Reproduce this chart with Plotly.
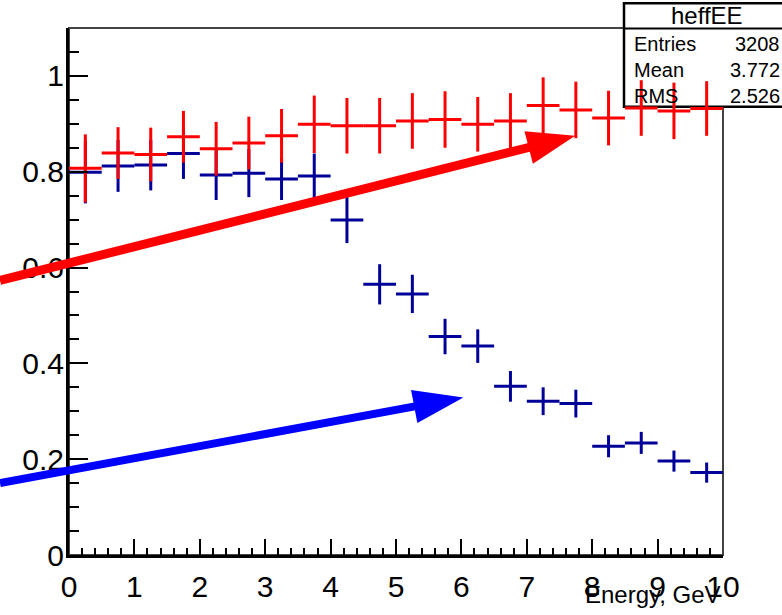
import plotly.graph_objects as go

# ---- data ----
bin_centers = [0.25, 0.75, 1.25, 1.75, 2.25, 2.75, 3.25, 3.75, 4.25, 4.75,
               5.25, 5.75, 6.25, 6.75, 7.25, 7.75, 8.25, 8.75, 9.25, 9.75]
bin_half_width = [0.25] * 20

red_values = [0.807, 0.839, 0.836, 0.873, 0.848, 0.860, 0.875, 0.899, 0.896, 0.896,
              0.906, 0.909, 0.899, 0.906, 0.938, 0.929, 0.912, 0.933, 0.927, 0.932]
red_errors = [0.071, 0.054, 0.056, 0.054, 0.056, 0.055, 0.056, 0.060, 0.058, 0.058,
              0.058, 0.059, 0.057, 0.058, 0.059, 0.059, 0.057, 0.058, 0.059, 0.057]

blue_values = [0.799, 0.812, 0.814, 0.838, 0.793, 0.797, 0.785, 0.791, 0.699, 0.565,
               0.545, 0.456, 0.436, 0.352, 0.321, 0.316, 0.227, 0.234, 0.196, 0.172]
blue_errors = [0.065, 0.054, 0.053, 0.053, 0.052, 0.050, 0.044, 0.047, 0.048, 0.042,
               0.040, 0.037, 0.035, 0.032, 0.029, 0.029, 0.023, 0.023, 0.022, 0.021]

stats_name = "heffEE"
stats_labels = ["Entries", "Mean", "RMS"]
stats_values = ["3208", "3.772", "2.526"]

title_text = "Efficiency vs Energy"
x_title = "Energy, GeV"

# arrows in data coordinates: (tail_x, tail_y, tip_x, tip_y)
red_arrow = (-1.055, 0.573, 7.74, 0.875)
blue_arrow = (-1.055, 0.150, 6.03, 0.329)

# ---- layout geometry ----
W, H = 782, 615
ML, MR, MT, MB = 69, 59, 28, 52
PW, PH = W - ML - MR, H - MT - MB
XR = [0, 10]
YR = [0, 1.1]
FONT = "Liberation Sans, Arial, sans-serif"


def data2px(x, y):
    px = ML + (x - XR[0]) / (XR[1] - XR[0]) * PW
    py = MT + PH - (y - YR[0]) / (YR[1] - YR[0]) * PH
    return px, py


def px2paper(px, py):
    return (px - ML) / PW, (MT + PH - py) / PH


def arrow_shapes(arrow, color, width, head_len, head_w):
    tx, ty = data2px(arrow[0], arrow[1])
    hx, hy = data2px(arrow[2], arrow[3])
    dx, dy = hx - tx, hy - ty
    L = (dx ** 2 + dy ** 2) ** 0.5
    ux, uy = dx / L, dy / L
    nx, ny = -uy, ux
    bx, by = hx - ux * head_len, hy - uy * head_len
    p_tail = px2paper(tx, ty)
    p_base = px2paper(bx + ux * 2, by + uy * 2)
    p1 = px2paper(bx + nx * head_w / 2, by + ny * head_w / 2)
    p2 = px2paper(bx - nx * head_w / 2, by - ny * head_w / 2)
    p3 = px2paper(hx, hy)
    line = dict(type="line", xref="paper", yref="paper",
                x0=p_tail[0], y0=p_tail[1], x1=p_base[0], y1=p_base[1],
                line=dict(color=color, width=width), layer="above")
    tri = dict(type="path", xref="paper", yref="paper",
               path=f"M {p1[0]} {p1[1]} L {p3[0]} {p3[1]} L {p2[0]} {p2[1]} Z",
               fillcolor=color, line=dict(color=color, width=0), layer="above")
    return [line, tri]


fig = go.Figure()

fig.add_trace(go.Scatter(
    x=bin_centers, y=blue_values, mode="markers",
    marker=dict(size=1, color="#000099"),
    error_x=dict(type="data", array=bin_half_width, color="#000099", thickness=3, width=0),
    error_y=dict(type="data", array=blue_errors, color="#000099", thickness=3, width=0),
    hoverinfo="skip", cliponaxis=False,
))
fig.add_trace(go.Scatter(
    x=bin_centers, y=red_values, mode="markers",
    marker=dict(size=1, color="#FF0000"),
    error_x=dict(type="data", array=bin_half_width, color="#FF0000", thickness=3, width=0),
    error_y=dict(type="data", array=red_errors, color="#FF0000", thickness=3, width=0),
    hoverinfo="skip", cliponaxis=False,
))

shapes = []
# plot frame (top/right in gray)
shapes.append(dict(type="rect", xref="paper", yref="paper", x0=0, y0=0, x1=1, y1=1,
                   line=dict(color="#444444", width=2), layer="below"))
# stats box
bx0, by0 = px2paper(624, 108)
bx1, by1 = px2paper(800, 3)
shapes.append(dict(type="rect", xref="paper", yref="paper", x0=bx0, y0=by0, x1=bx1, y1=by1,
                   line=dict(color="black", width=2.5), fillcolor="white", layer="below"))
dx0, dy0 = px2paper(624, 28.5)
shapes.append(dict(type="line", xref="paper", yref="paper", x0=dx0, y0=dy0, x1=bx1, y1=dy0,
                   line=dict(color="black", width=2), layer="below"))
shapes += arrow_shapes(red_arrow, "#FF0000", 9, 48, 34)
shapes += arrow_shapes(blue_arrow, "#0000FF", 8, 50, 34)

annotations = []
hx_, hy_ = px2paper(707, 15)
annotations.append(dict(text=stats_name, xref="paper", yref="paper", x=hx_, y=hy_,
                        xanchor="center", yanchor="middle", showarrow=False,
                        font=dict(family=FONT, size=24, color="black")))
for i, (lab, val) in enumerate(zip(stats_labels, stats_values)):
    rowy = [44, 71, 97][i]
    lx, ly = px2paper(632, rowy)
    rx, _ = px2paper(782, rowy)
    annotations.append(dict(text=lab, xref="paper", yref="paper", x=lx, y=ly,
                            xanchor="left", yanchor="middle", showarrow=False,
                            font=dict(family=FONT, size=20, color="black")))
    annotations.append(dict(text=val, xref="paper", yref="paper", x=rx, y=ly,
                            xanchor="right", yanchor="middle", showarrow=False,
                            font=dict(family=FONT, size=20, color="black")))
# x axis title
tx_, ty_ = px2paper(723, 603)
annotations.append(dict(text=x_title, xref="paper", yref="paper", x=tx_, y=ty_,
                        xanchor="right", yanchor="middle", showarrow=False,
                        font=dict(family=FONT, size=24, color="black")))
# title (mostly cut off at the top of the canvas)
ttx, tty = px2paper(386, -23)
annotations.append(dict(text=title_text, xref="paper", yref="paper", x=ttx, y=tty,
                        xanchor="center", yanchor="middle", showarrow=False,
                        font=dict(family=FONT, size=40, color="black")))

fig.update_layout(
    width=W, height=H, autosize=False,
    margin=dict(l=ML, r=MR, t=MT, b=MB, pad=0),
    paper_bgcolor="white", plot_bgcolor="white",
    showlegend=False,
    shapes=shapes, annotations=annotations,
    xaxis=dict(range=XR, showgrid=False, zeroline=False,
               showline=True, linecolor="black", linewidth=3,
               ticks="inside", ticklen=16, tickwidth=2, tickcolor="black",
               tickmode="linear", tick0=0, dtick=1,
               minor=dict(ticks="inside", ticklen=7, tickwidth=2, tickcolor="black", dtick=0.2),
               tickfont=dict(family=FONT, size=30, color="black"),
               ticklabelstandoff=3),
    yaxis=dict(range=YR, showgrid=False, zeroline=False,
               showline=True, linecolor="black", linewidth=3,
               ticks="inside", ticklen=19, tickwidth=2, tickcolor="black",
               tickmode="array", tickvals=[0, 0.2, 0.4, 0.6, 0.8, 1.0],
               ticktext=["0", "0.2", "0.4", "0.6", "0.8", "1"],
               minor=dict(ticks="inside", ticklen=10, tickwidth=2, tickcolor="black", dtick=0.05),
               tickfont=dict(family=FONT, size=30, color="black"),
               ticklabelstandoff=-4),
)

fig.write_html("out.html")
